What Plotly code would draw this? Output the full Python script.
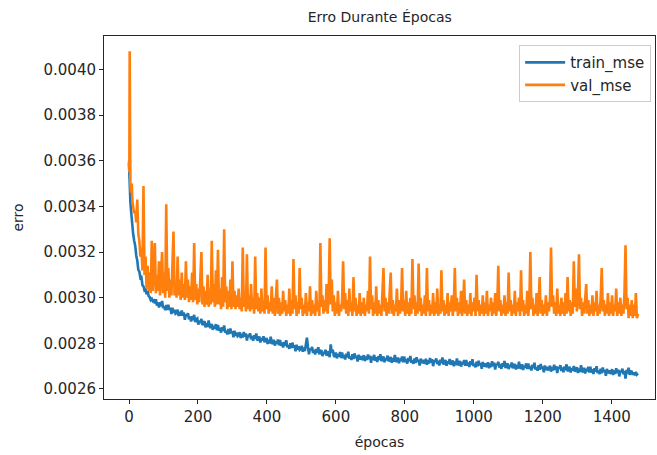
import plotly.graph_objects as go

# epochs sampled: finer at the very start, then every 3 epochs
epochs = [0, 1, 2, 3, 4, 6, 8, 10, 12, 15] + list(range(18, 1479, 3))

train_mse = [
    0.003590, 0.003520, 0.003480, 0.003450, 0.003420, 0.003380, 0.003340, 0.003300, 0.003280, 0.003250,
    # 18..75
    0.003228, 0.003185, 0.003163, 0.003122, 0.003115, 0.003087, 0.003090, 0.003055, 0.003050, 0.003032,
    0.003035, 0.003015, 0.003028, 0.003007, 0.003003, 0.002990, 0.002995, 0.002985, 0.002988, 0.002975,
    # 78..135
    0.002993, 0.002966, 0.002979, 0.002957, 0.002980, 0.002963, 0.002986, 0.002954, 0.002962, 0.002945,
    0.002968, 0.002946, 0.002969, 0.002947, 0.002955, 0.002928, 0.002956, 0.002934, 0.002947, 0.002930,
    # 138..195
    0.002934, 0.002947, 0.002920, 0.002938, 0.002921, 0.002944, 0.002922, 0.002935, 0.002903, 0.002926,
    0.002919, 0.002932, 0.002905, 0.002918, 0.002896, 0.002919, 0.002902, 0.002925, 0.002893, 0.002906,
    # 198..255
    0.002909, 0.002882, 0.002900, 0.002889, 0.002907, 0.002880, 0.002889, 0.002897, 0.002870, 0.002889,
    0.002872, 0.002900, 0.002874, 0.002867, 0.002885, 0.002859, 0.002877, 0.002865, 0.002884, 0.002857,
    # 258..315
    0.002881, 0.002855, 0.002868, 0.002847, 0.002871, 0.002854, 0.002878, 0.002847, 0.002855, 0.002839,
    0.002863, 0.002841, 0.002865, 0.002844, 0.002852, 0.002826, 0.002855, 0.002833, 0.002847, 0.002831,
    # 318..375
    0.002835, 0.002849, 0.002823, 0.002842, 0.002826, 0.002850, 0.002829, 0.002843, 0.002812, 0.002836,
    0.002830, 0.002844, 0.002818, 0.002832, 0.002811, 0.002835, 0.002819, 0.002843, 0.002812, 0.002826,
    # 378..435
    0.002830, 0.002804, 0.002823, 0.002812, 0.002831, 0.002805, 0.002814, 0.002823, 0.002797, 0.002816,
    0.002800, 0.002829, 0.002803, 0.002797, 0.002816, 0.002790, 0.002809, 0.002798, 0.002817, 0.002791,
    # 438..495
    0.002815, 0.002789, 0.002803, 0.002782, 0.002806, 0.002790, 0.002814, 0.002783, 0.002792, 0.002776,
    0.002800, 0.002779, 0.002803, 0.002782, 0.002791, 0.002765, 0.002794, 0.002773, 0.002787, 0.002771,
    # 498..555
    0.002775, 0.002789, 0.002763, 0.002782, 0.002766, 0.002790, 0.002825, 0.002785, 0.002752, 0.002776,
    0.002770, 0.002784, 0.002758, 0.002772, 0.002751, 0.002775, 0.002759, 0.002783, 0.002752, 0.002766,
    # 558..615
    0.002770, 0.002744, 0.002763, 0.002753, 0.002772, 0.002746, 0.002755, 0.002765, 0.002739, 0.002795,
    0.002760, 0.002772, 0.002746, 0.002740, 0.002760, 0.002734, 0.002753, 0.002742, 0.002762, 0.002736,
    # 618..675
    0.002760, 0.002735, 0.002749, 0.002729, 0.002754, 0.002738, 0.002763, 0.002733, 0.002742, 0.002727,
    0.002752, 0.002731, 0.002756, 0.002736, 0.002745, 0.002720, 0.002750, 0.002729, 0.002744, 0.002728,
    # 678..735
    0.002733, 0.002748, 0.002722, 0.002742, 0.002727, 0.002751, 0.002731, 0.002746, 0.002715, 0.002740,
    0.002735, 0.002749, 0.002724, 0.002739, 0.002718, 0.002743, 0.002728, 0.002752, 0.002722, 0.002737,
    # 738..795
    0.002742, 0.002717, 0.002736, 0.002726, 0.002746, 0.002721, 0.002730, 0.002740, 0.002715, 0.002735,
    0.002719, 0.002749, 0.002724, 0.002719, 0.002738, 0.002713, 0.002733, 0.002723, 0.002742, 0.002717,
    # 798..855
    0.002742, 0.002717, 0.002731, 0.002711, 0.002736, 0.002721, 0.002745, 0.002715, 0.002725, 0.002710,
    0.002734, 0.002714, 0.002739, 0.002719, 0.002728, 0.002703, 0.002733, 0.002713, 0.002727, 0.002712,
    # 858..915
    0.002717, 0.002732, 0.002706, 0.002726, 0.002711, 0.002736, 0.002715, 0.002730, 0.002700, 0.002725,
    0.002719, 0.002734, 0.002709, 0.002724, 0.002703, 0.002728, 0.002713, 0.002738, 0.002707, 0.002722,
    # 918..975
    0.002727, 0.002702, 0.002721, 0.002711, 0.002731, 0.002706, 0.002715, 0.002725, 0.002700, 0.002720,
    0.002704, 0.002734, 0.002709, 0.002704, 0.002723, 0.002698, 0.002718, 0.002708, 0.002727, 0.002702,
    # 978..1035
    0.002727, 0.002702, 0.002716, 0.002696, 0.002721, 0.002706, 0.002730, 0.002700, 0.002710, 0.002695,
    0.002719, 0.002699, 0.002724, 0.002704, 0.002713, 0.002688, 0.002718, 0.002698, 0.002712, 0.002697,
    # 1038..1095
    0.002702, 0.002717, 0.002691, 0.002711, 0.002696, 0.002721, 0.002700, 0.002715, 0.002685, 0.002710,
    0.002704, 0.002719, 0.002694, 0.002709, 0.002688, 0.002713, 0.002698, 0.002723, 0.002692, 0.002707,
    # 1098..1155
    0.002712, 0.002687, 0.002706, 0.002696, 0.002716, 0.002691, 0.002700, 0.002710, 0.002685, 0.002705,
    0.002689, 0.002719, 0.002694, 0.002689, 0.002708, 0.002683, 0.002703, 0.002693, 0.002712, 0.002687,
    # 1158..1215
    0.002712, 0.002687, 0.002701, 0.002681, 0.002706, 0.002691, 0.002715, 0.002685, 0.002695, 0.002680,
    0.002704, 0.002684, 0.002709, 0.002689, 0.002698, 0.002673, 0.002703, 0.002683, 0.002697, 0.002682,
    # 1218..1275
    0.002687, 0.002702, 0.002676, 0.002696, 0.002681, 0.002706, 0.002685, 0.002700, 0.002670, 0.002695,
    0.002689, 0.002704, 0.002679, 0.002694, 0.002673, 0.002698, 0.002683, 0.002708, 0.002677, 0.002692,
    # 1278..1335
    0.002697, 0.002672, 0.002691, 0.002681, 0.002701, 0.002676, 0.002685, 0.002695, 0.002670, 0.002690,
    0.002674, 0.002704, 0.002679, 0.002674, 0.002693, 0.002668, 0.002688, 0.002678, 0.002697, 0.002672,
    # 1338..1395
    0.002697, 0.002672, 0.002686, 0.002666, 0.002691, 0.002676, 0.002700, 0.002670, 0.002680, 0.002665,
    0.002689, 0.002669, 0.002694, 0.002674, 0.002683, 0.002658, 0.002688, 0.002668, 0.002682, 0.002667,
    # 1398..1455
    0.002672, 0.002687, 0.002661, 0.002681, 0.002666, 0.002691, 0.002670, 0.002685, 0.002655, 0.002680,
    0.002674, 0.002689, 0.002664, 0.002679, 0.002645, 0.002683, 0.002668, 0.002693, 0.002662, 0.002677,
    # 1458..1476
    0.002676, 0.002662, 0.002672, 0.002660, 0.002674, 0.002663, 0.002668,
]

val_mse = [
    0.00360, 0.00355, 0.00408, 0.00352, 0.00350, 0.00346, 0.00350, 0.00342, 0.00340, 0.00337,
    # 18..75
    0.00338, 0.00333, 0.00343, 0.00328, 0.00325, 0.00318, 0.00322, 0.00312, 0.00349, 0.00310,
    0.00318, 0.00304, 0.00314, 0.00303, 0.00311, 0.00302, 0.00325, 0.00303, 0.00312, 0.00324,
    # 78..135
    0.00302, 0.00310, 0.00303, 0.00316, 0.00301, 0.00309, 0.00320, 0.00302, 0.00311, 0.00300,
    0.00341, 0.00303, 0.00313, 0.00300, 0.00308, 0.00301, 0.00312, 0.00329, 0.00301, 0.00307,
    # 138..195
    0.00300, 0.00318, 0.00301, 0.00308, 0.00299, 0.00311, 0.00300, 0.00306, 0.00299, 0.00316,
    0.00300, 0.00308, 0.00298, 0.00305, 0.00299, 0.00311, 0.00298, 0.00324, 0.00299, 0.00306,
    # 198..255
    0.00297, 0.00304, 0.00298, 0.00309, 0.00320, 0.00297, 0.00305, 0.00296, 0.00303, 0.00297,
    0.00310, 0.00296, 0.00304, 0.00297, 0.00325, 0.00298, 0.00306, 0.00296, 0.00312, 0.00297,
    # 258..315
    0.00321, 0.00297, 0.00304, 0.00295, 0.00309, 0.00296, 0.00330, 0.00298, 0.00305, 0.00295,
    0.00303, 0.00296, 0.00308, 0.00295, 0.00316, 0.00296, 0.00303, 0.00295, 0.00301, 0.00296,
    # 318..375
    0.00304, 0.00295, 0.00300, 0.00294, 0.00322, 0.00296, 0.00303, 0.00294, 0.00319, 0.00295,
    0.00301, 0.00294, 0.00306, 0.00295, 0.00300, 0.00293, 0.00318, 0.00295, 0.00302, 0.00294,
    # 378..435
    0.00300, 0.00293, 0.00304, 0.00294, 0.00299, 0.00293, 0.00322, 0.00295, 0.00301, 0.00293,
    0.00298, 0.00294, 0.00305, 0.00293, 0.00300, 0.00292, 0.00299, 0.00308, 0.00293, 0.00300,
    # 438..495
    0.00292, 0.00298, 0.00293, 0.00303, 0.00294, 0.00299, 0.00292, 0.00297, 0.00293, 0.00304,
    0.00292, 0.00299, 0.00293, 0.00317, 0.00295, 0.00301, 0.00292, 0.00298, 0.00293, 0.00313,
    # 498..555
    0.00295, 0.00300, 0.00292, 0.00297, 0.00293, 0.00302, 0.00292, 0.00298, 0.00294, 0.00305,
    0.00292, 0.00299, 0.00293, 0.00297, 0.00292, 0.00303, 0.00294, 0.00298, 0.00292, 0.00324,
    # 558..615
    0.00296, 0.00301, 0.00293, 0.00299, 0.00294, 0.00306, 0.00293, 0.00300, 0.00326, 0.00297,
    0.00308, 0.00294, 0.00301, 0.00292, 0.00298, 0.00293, 0.00303, 0.00292, 0.00297, 0.00294,
    # 618..675
    0.00299, 0.00316, 0.00295, 0.00302, 0.00293, 0.00299, 0.00292, 0.00304, 0.00294, 0.00298,
    0.00292, 0.00309, 0.00294, 0.00300, 0.00292, 0.00297, 0.00293, 0.00302, 0.00292, 0.00298,
    # 678..735
    0.00293, 0.00300, 0.00292, 0.00297, 0.00294, 0.00303, 0.00293, 0.00318, 0.00295, 0.00301,
    0.00292, 0.00298, 0.00293, 0.00305, 0.00292, 0.00299, 0.00293, 0.00297, 0.00292, 0.00302,
    # 738..795
    0.00313, 0.00294, 0.00300, 0.00292, 0.00298, 0.00293, 0.00301, 0.00311, 0.00293, 0.00299,
    0.00292, 0.00297, 0.00294, 0.00304, 0.00292, 0.00299, 0.00293, 0.00297, 0.00313, 0.00294,
    # 798..855
    0.00299, 0.00292, 0.00303, 0.00293, 0.00298, 0.00292, 0.00300, 0.00293, 0.00317, 0.00295,
    0.00301, 0.00292, 0.00298, 0.00293, 0.00315, 0.00294, 0.00300, 0.00292, 0.00297, 0.00293,
    # 858..915
    0.00301, 0.00292, 0.00313, 0.00294, 0.00299, 0.00292, 0.00297, 0.00293, 0.00302, 0.00292,
    0.00298, 0.00293, 0.00304, 0.00292, 0.00297, 0.00293, 0.00312, 0.00294, 0.00299, 0.00292,
    # 918..975
    0.00297, 0.00293, 0.00302, 0.00292, 0.00298, 0.00294, 0.00301, 0.00292, 0.00297, 0.00313,
    0.00294, 0.00300, 0.00292, 0.00298, 0.00293, 0.00303, 0.00292, 0.00297, 0.00308, 0.00293,
    # 978..1035
    0.00299, 0.00292, 0.00297, 0.00293, 0.00302, 0.00292, 0.00298, 0.00294, 0.00300, 0.00292,
    0.00310, 0.00294, 0.00299, 0.00292, 0.00297, 0.00293, 0.00301, 0.00292, 0.00298, 0.00293,
    # 1038..1095
    0.00303, 0.00292, 0.00297, 0.00294, 0.00300, 0.00292, 0.00298, 0.00293, 0.00302, 0.00292,
    0.00297, 0.00314, 0.00294, 0.00299, 0.00292, 0.00297, 0.00293, 0.00301, 0.00292, 0.00298,
    # 1098..1155
    0.00293, 0.00311, 0.00294, 0.00299, 0.00292, 0.00297, 0.00293, 0.00303, 0.00292, 0.00298,
    0.00294, 0.00300, 0.00292, 0.00312, 0.00294, 0.00299, 0.00292, 0.00297, 0.00293, 0.00303,
    # 1158..1215
    0.00292, 0.00298, 0.00320, 0.00295, 0.00300, 0.00292, 0.00297, 0.00293, 0.00302, 0.00292,
    0.00298, 0.00309, 0.00293, 0.00299, 0.00292, 0.00297, 0.00293, 0.00301, 0.00292, 0.00298,
    # 1218..1275
    0.00294, 0.00300, 0.00322, 0.00296, 0.00301, 0.00293, 0.00298, 0.00292, 0.00304, 0.00293,
    0.00297, 0.00292, 0.00300, 0.00293, 0.00298, 0.00292, 0.00302, 0.00293, 0.00309, 0.00294,
    # 1278..1335
    0.00299, 0.00292, 0.00298, 0.00293, 0.00316, 0.00296, 0.00304, 0.00294, 0.00301, 0.00319,
    0.00295, 0.00300, 0.00292, 0.00298, 0.00293, 0.00302, 0.00306, 0.00293, 0.00299, 0.00292,
    # 1338..1395
    0.00297, 0.00293, 0.00301, 0.00292, 0.00298, 0.00294, 0.00303, 0.00292, 0.00297, 0.00293,
    0.00300, 0.00313, 0.00294, 0.00299, 0.00292, 0.00297, 0.00293, 0.00302, 0.00292, 0.00298,
    # 1398..1455
    0.00293, 0.00301, 0.00292, 0.00297, 0.00294, 0.00304, 0.00292, 0.00298, 0.00293, 0.00300,
    0.00292, 0.00297, 0.00293, 0.00302, 0.00323, 0.00295, 0.00300, 0.00291, 0.00297, 0.00292,
    # 1458..1476
    0.00299, 0.00291, 0.00297, 0.00292, 0.00302, 0.00291, 0.00293,
]

x_ticks = [0, 200, 400, 600, 800, 1000, 1200, 1400]
y_ticks = [0.0026, 0.0028, 0.0030, 0.0032, 0.0034, 0.0036, 0.0038, 0.0040]

FONT = "DejaVu Sans"
TXT = "#262626"

fig = go.Figure()
fig.add_trace(go.Scatter(x=epochs, y=train_mse, mode="lines", name="train_mse",
                         line=dict(color="#1f77b4", width=2.6)))
fig.add_trace(go.Scatter(x=epochs, y=val_mse, mode="lines", name="val_mse",
                         line=dict(color="#ff7f0e", width=2.6)))

fig.update_layout(
    width=657, height=455,
    margin=dict(l=104, r=2, t=36, b=56),
    paper_bgcolor="white", plot_bgcolor="white",
    font=dict(family=FONT, size=15, color=TXT),
    title=dict(text="Erro Durante Épocas", x=0.578, xanchor="center", y=0.962, yanchor="middle",
               font=dict(family=FONT, size=14, color=TXT)),
    showlegend=True,
    legend=dict(x=0.993, y=0.975, xanchor="right", yanchor="top", itemwidth=40,
                bgcolor="rgba(255,255,255,0.8)", bordercolor="#cccccc", borderwidth=1,
                font=dict(family=FONT, size=15, color=TXT), tracegroupgap=0),
)
fig.update_xaxes(
    range=[-72.5, 1525.5], tickmode="array", tickvals=x_ticks,
    ticks="outside", ticklen=4, tickcolor=TXT, showgrid=False, zeroline=False,
    showline=True, linecolor=TXT, linewidth=1, mirror=True,
    tickfont=dict(size=15),
    title=dict(text="épocas", standoff=12, font=dict(size=14)),
)
fig.update_yaxes(
    range=[0.002556, 0.004147], tickmode="array", tickvals=y_ticks, tickformat=".4f",
    ticks="outside", ticklen=4, tickcolor=TXT, showgrid=False, zeroline=False,
    showline=True, linecolor=TXT, linewidth=1, mirror=True,
    tickfont=dict(size=15),
    title=dict(text="erro", standoff=16, font=dict(size=14)),
)

fig.write_html("out.html", config={"displayModeBar": False},
               post_script="document.body.style.margin='0px';")
